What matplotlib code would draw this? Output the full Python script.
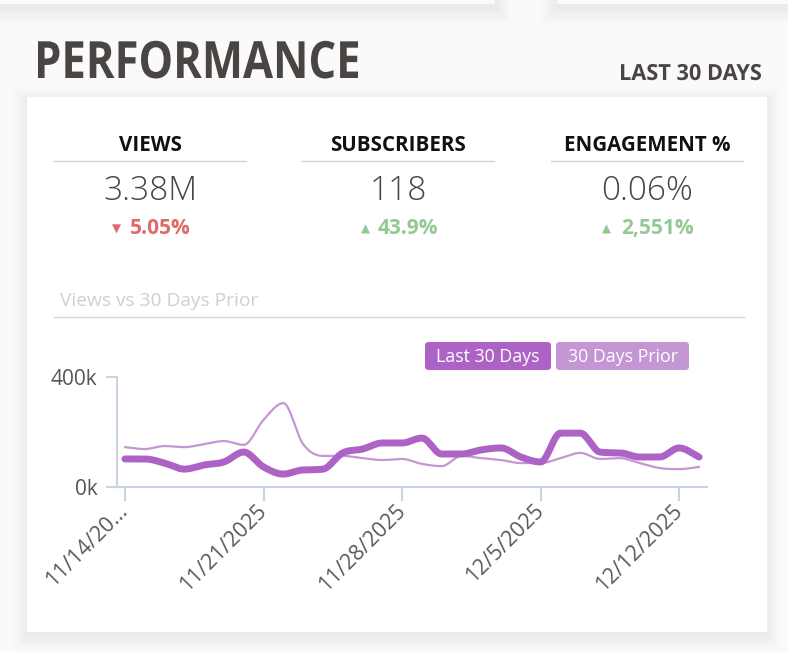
import numpy as np
import matplotlib.pyplot as plt
from matplotlib.patches import FancyBboxPatch, Rectangle, PathPatch
from matplotlib.textpath import TextPath
from matplotlib.font_manager import FontProperties
from matplotlib.transforms import Affine2D, IdentityTransform

# data
days = list(range(30))
tick_days = [0, 7, 14, 21, 28]
tick_labels = ['11/14/20...', '11/21/2025', '11/28/2025', '12/5/2025', '12/12/2025']
last_30 = [102, 102, 87, 65, 80, 91, 127, 73, 47, 62, 65, 124, 138, 160, 160,
           178, 120, 120, 135, 142, 109, 91, 196, 196, 127, 124, 109, 109, 142, 109]
prior_30 = [145, 138, 149, 145, 156, 167, 153, 244, 305, 156, 113, 113, 105, 98, 102,
            84, 76, 113, 105, 98, 87, 87, 105, 124, 102, 105, 87, 69, 65, 73]
last_30 = [v * 1000 for v in last_30]
prior_30 = [v * 1000 for v in prior_30]

stat_names = ['VIEWS', 'SUBSCRIBERS', 'ENGAGEMENT %']
stat_values = ['3.38M', '118', '0.06%']
stat_deltas = ['5.05%', '43.9%', '2,551%']
stat_up = [False, True, True]

W, H = 788, 652
TEXT = '#4a4542'
PURPLE = '#ad62c6'
PURPLE_LIGHT = '#c496d3'
AXIS = '#c8d3e3'
SANS = ['Open Sans', 'DejaVu Sans']


def fx(x):
    return x / W


def fy(y):
    return 1 - y / H


def monotone(x, y, n=16):
    # monotone cubic (Fritsch-Carlson) for drawing a smooth line
    x = np.asarray(x, float)
    y = np.asarray(y, float)
    h = np.diff(x)
    d = np.diff(y) / h
    m = np.zeros_like(y)
    m[0], m[-1] = d[0], d[-1]
    for i in range(1, len(y) - 1):
        if d[i - 1] * d[i] <= 0:
            m[i] = 0
        else:
            m[i] = (d[i - 1] + d[i]) / 2
    for i in range(len(d)):
        if d[i] == 0:
            m[i] = m[i + 1] = 0
            continue
        a, b = m[i] / d[i], m[i + 1] / d[i]
        s = a * a + b * b
        if s > 9:
            t = 3 / np.sqrt(s)
            m[i], m[i + 1] = t * a * d[i], t * b * d[i]
    xs, ys = [], []
    t = np.linspace(0, 1, n, endpoint=False)
    for i in range(len(h)):
        h00 = 2 * t**3 - 3 * t**2 + 1
        h10 = t**3 - 2 * t**2 + t
        h01 = -2 * t**3 + 3 * t**2
        h11 = t**3 - t**2
        xs.append(x[i] + t * h[i])
        ys.append(h00 * y[i] + h10 * h[i] * m[i] + h01 * y[i + 1] + h11 * h[i] * m[i + 1])
    xs.append([x[-1]])
    ys.append([y[-1]])
    return np.concatenate(xs), np.concatenate(ys)


def shadow(fig, x0, y0, x1, y1, spread=14, alpha=0.005, dy=3):
    for k in range(spread, 0, -1):
        fig.patches.append(Rectangle((fx(x0 - k), fy(y1 + k + dy)), (x1 - x0 + 2 * k) / W,
                                     (y1 - y0 + 2 * k) / H, transform=fig.transFigure,
                                     facecolor='black', edgecolor='none', alpha=alpha, zorder=0))


def narrow_text(fig, s, x0, x1, baseline, size, color):
    # condensed bold text: squeeze the glyph outline to span x0..x1 pixels
    fp = FontProperties(family='Open Sans', weight='bold', size=size * 100 / 72)
    tp = TextPath((0, 0), s, prop=fp)
    ext = tp.get_extents()
    sx = (x1 - x0) / ext.width
    tr = Affine2D().translate(-ext.x0, 0).scale(sx, 1).translate(x0, H - baseline)
    fig.patches.append(PathPatch(tr.transform_path(tp), transform=IdentityTransform(),
                                 facecolor=color, edgecolor='none', zorder=3))


fig = plt.figure(figsize=(W / 100, H / 100), dpi=100)
fig.patch.set_facecolor('#fafafa')

# cards above (only their shadows show)
shadow(fig, -40, -60, 495, 4, spread=16, alpha=0.004, dy=4)
shadow(fig, 557, -60, 830, 4, spread=16, alpha=0.004, dy=4)
fig.patches.append(Rectangle((fx(-40), fy(4)), 535 / W, 64 / H, transform=fig.transFigure,
                             facecolor='#fafafa', edgecolor='none', zorder=0.5))
fig.patches.append(Rectangle((fx(557), fy(4)), 273 / W, 64 / H, transform=fig.transFigure,
                             facecolor='#fafafa', edgecolor='none', zorder=0.5))

# main card
shadow(fig, 27, 97, 767, 632, spread=14, alpha=0.0045, dy=4)
fig.patches.append(Rectangle((fx(27), fy(632)), 740 / W, 535 / H, transform=fig.transFigure,
                             facecolor='white', edgecolor='none', zorder=1))

narrow_text(fig, 'PERFORMANCE', 38, 358, 78, 37, TEXT)
narrow_text(fig, 'LAST 30 DAYS', 621, 761, 80, 16, TEXT)

centers = [150, 398, 647]
tri_x = [116, 365, 606]
for i, cx in enumerate(centers):
    fig.text(fx(cx), fy(151), stat_names[i], fontsize=14.8, fontweight='bold', color='#111111',
             family=SANS, ha='center', va='baseline', zorder=3)
    fig.add_artist(plt.Line2D([fx(cx - 96), fx(cx + 96)], [fy(161), fy(161)],
                              color='#d3d3d3', lw=1, transform=fig.transFigure, zorder=3))
    fig.text(fx(cx), fy(200), stat_values[i], fontsize=24, fontweight='light', color=TEXT,
             family=SANS, ha='center', va='baseline', zorder=3)
    col = '#93c993' if stat_up[i] else '#e06a6a'
    tri = '\u25B2' if stat_up[i] else '\u25BC'
    fig.text(fx(cx + 10), fy(234), stat_deltas[i], fontsize=15, fontweight='bold', color=col,
             family=SANS, ha='center', va='baseline', zorder=3)
    fig.text(fx(tri_x[i]), fy(229), tri, fontsize=8.5, color=col, family=['DejaVu Sans'],
             ha='center', va='center', zorder=3)

fig.text(fx(60), fy(306), 'Views vs 30 Days Prior', fontsize=13.8, color='#cfcfcf',
         family=SANS, ha='left', va='baseline', zorder=3)
fig.add_artist(plt.Line2D([fx(54), fx(744)], [fy(317), fy(317)], color='#d6d6d6', lw=1,
                          transform=fig.transFigure, zorder=3))

# legend boxes
for (x0, x1, label, col) in [(425, 551, 'Last 30 Days', PURPLE), (556, 689, '30 Days Prior', PURPLE_LIGHT)]:
    fig.patches.append(FancyBboxPatch((fx(x0), fy(370)), (x1 - x0) / W, 28 / H,
                                      boxstyle='round,pad=0,rounding_size=0.005',
                                      transform=fig.transFigure, facecolor=col,
                                      edgecolor='none', zorder=2))
    fig.text(fx((x0 + x1) / 2), fy(357), label, fontsize=12.8, color='white', family=SANS,
             ha='center', va='center', zorder=3)

# chart
ax = fig.add_axes([fx(117), fy(487), (707 - 117) / W, (487 - 377) / H])
ax.set_zorder(5)
ax.set_facecolor('none')
px, py = monotone(days, prior_30)
ax.plot(px, py, color=PURPLE_LIGHT, lw=1.6, solid_capstyle='round', zorder=2)
lx, ly = monotone(days, last_30)
ax.plot(lx, ly, color=PURPLE, lw=5, solid_capstyle='round', solid_joinstyle='round', zorder=3)
ax.set_xlim(-0.4, 29.4)
ax.set_ylim(0, 400000)
ax.set_yticks([0, 400000])
ax.set_yticklabels(['0k', '400k'])
ax.set_xticks(tick_days)
ax.set_xticklabels(tick_labels, rotation=45, ha='right', va='center', rotation_mode='anchor')
for s in ['top', 'right']:
    ax.spines[s].set_visible(False)
for s in ['left', 'bottom']:
    ax.spines[s].set_color(AXIS)
    ax.spines[s].set_linewidth(1.5)
ax.spines['bottom'].set_bounds(-0.4 - 8 / 19.8, 29.4)
ax.spines['bottom'].set_clip_on(False)
ax.tick_params(axis='x', length=10, width=1.5, color=AXIS, pad=5, labelsize=15.5,
               labelcolor='#5a5a5a')
ax.tick_params(axis='y', length=8, width=1.5, color=AXIS, pad=6, labelsize=15,
               labelcolor='#555555')
for lab in ax.get_xticklabels() + ax.get_yticklabels():
    lab.set_family(SANS)

fig.savefig('out.png', dpi=100, facecolor=fig.get_facecolor())
